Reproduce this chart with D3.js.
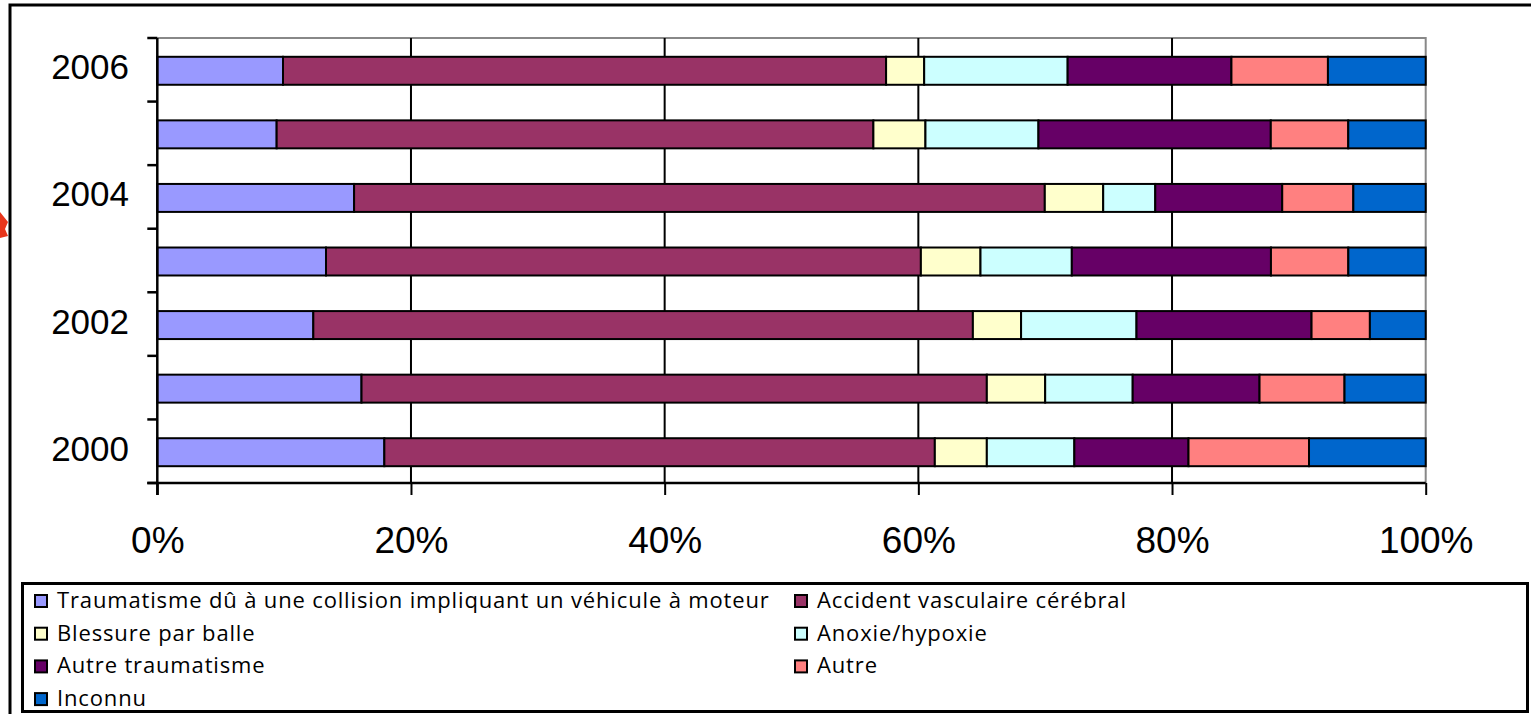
<!DOCTYPE html>
<html lang="fr">
<head>
<meta charset="utf-8">
<script src="https://cdn.jsdelivr.net/npm/d3@7"></script>
<style>
  html, body { margin: 0; padding: 0; background: #fff; }
  svg { display: block; }
</style>
</head>
<body>
<svg id="chart" width="1531" height="714"></svg>
<script>
// Years (bottom to top) and the share of each cause of death, in percent
const years = ["2000", "2001", "2002", "2003", "2004", "2005", "2006"];
const yearLabels = ["2000", "2002", "2004", "2006"];
const causes = [
  "Traumatisme dû à une collision impliquant un véhicule à moteur",
  "Accident vasculaire cérébral",
  "Blessure par balle",
  "Anoxie/hypoxie",
  "Autre traumatisme",
  "Autre",
  "Inconnu"
];
const collision   = [17.9, 16.1, 12.3, 13.3, 15.5,  9.4,  9.9];
const avc         = [43.4, 49.3, 52.0, 46.9, 54.4, 47.0, 47.5];
const balle       = [ 4.1,  4.6,  3.8,  4.7,  4.6,  4.1,  3.0];
const anoxie      = [ 6.9,  6.9,  9.1,  7.2,  4.1,  8.9, 11.3];
const autreTrauma = [ 9.0, 10.0, 13.8, 15.7, 10.0, 18.3, 12.9];
const autre       = [ 9.5,  6.7,  4.6,  6.1,  5.6,  6.1,  7.6];
const inconnu     = [ 9.2,  6.4,  4.4,  6.1,  5.7,  6.1,  7.7];
const percentTicks = [0, 0.2, 0.4, 0.6, 0.8, 1];

const palette = ["#9999FF", "#993366", "#FFFFCC", "#CCFFFF", "#660066", "#FF8080", "#0066CC"];
const seriesValues = [collision, avc, balle, anoxie, autreTrauma, autre, inconnu];

// rows for d3.stack
const rows = years.map((y, i) => {
  const r = { year: y };
  causes.forEach((c, k) => { r[c] = seriesValues[k][i]; });
  return r;
});
const stacked = d3.stack().keys(causes).offset(d3.stackOffsetExpand)(rows);

const svg = d3.select("#chart");
const plot = { left: 157.3, right: 1425.7, top: 38, bottom: 483 };

// outer frame of the slide object
svg.append("rect")
  .attr("x", 10).attr("y", 5).attr("width", 1540).attr("height", 720)
  .attr("fill", "#fff").attr("stroke", "#000").attr("stroke-width", 3);

// small red decoration peeking at the left edge
svg.append("path")
  .attr("d", "M0,212 L8,222 L5,229 L8,236 L0,238 Z")
  .attr("fill", "#e8361c");

const x = d3.scaleLinear().domain([0, 1]).range([plot.left, plot.right]);
const yBand = d3.scaleBand().domain(years.slice().reverse())
  .range([plot.top, plot.bottom]).paddingInner(0).paddingOuter(0);
const yBar = d3.scaleBand().domain(years.slice().reverse())
  .range([plot.top, plot.bottom]).paddingInner(0.56).paddingOuter(0.28);

// plot area border (grey top/right)
svg.append("path")
  .attr("d", `M${plot.left},${plot.top} H${plot.right} V${plot.bottom}`)
  .attr("fill", "none").attr("stroke", "#888").attr("stroke-width", 2);

// vertical gridlines
svg.append("g")
  .selectAll("line")
  .data(percentTicks.slice(1, -1))
  .join("line")
  .attr("x1", d => x(d)).attr("x2", d => x(d))
  .attr("y1", plot.top).attr("y2", plot.bottom)
  .attr("stroke", "#000").attr("stroke-width", 2);

// stacked bars
svg.append("g")
  .selectAll("g")
  .data(stacked)
  .join("g")
  .attr("fill", (d, i) => palette[i])
  .selectAll("rect")
  .data(d => d)
  .join("rect")
  .attr("x", d => x(d[0]))
  .attr("width", d => x(d[1]) - x(d[0]))
  .attr("y", d => yBar(d.data.year) + 1)
  .attr("height", yBar.bandwidth())
  .attr("stroke", "#000").attr("stroke-width", 2);

// x axis
const xAxis = d3.axisBottom(x)
  .tickValues(percentTicks)
  .tickFormat(d3.format(".0%"))
  .tickSize(12)
  .tickSizeOuter(0);
const gx = svg.append("g").attr("transform", `translate(0,${plot.bottom})`).call(xAxis);
gx.select(".domain").remove();
gx.selectAll(".tick line").attr("stroke", "#000").attr("stroke-width", 2);
gx.selectAll(".tick text")
  .attr("y", 70).attr("dy", 0)
  .attr("font-family", "'Liberation Sans', Arial, sans-serif")
  .attr("font-size", 37).attr("fill", "#000");
svg.append("line")
  .attr("x1", plot.left - 10).attr("x2", plot.right)
  .attr("y1", plot.bottom).attr("y2", plot.bottom)
  .attr("stroke", "#000").attr("stroke-width", 2.5);

// y axis: line, ticks at category boundaries, labels every other year
const yEdges = years.map(y => yBand(y)).concat([plot.bottom]);
svg.append("line")
  .attr("x1", plot.left).attr("x2", plot.left)
  .attr("y1", plot.top).attr("y2", plot.bottom + 12)
  .attr("stroke", "#000").attr("stroke-width", 2.5);
svg.append("g")
  .selectAll("line")
  .data(yEdges)
  .join("line")
  .attr("x1", plot.left - 10).attr("x2", plot.left)
  .attr("y1", d => d).attr("y2", d => d)
  .attr("stroke", "#000").attr("stroke-width", 2.5);
svg.append("g")
  .selectAll("text")
  .data(yearLabels)
  .join("text")
  .attr("x", 129)
  .attr("y", d => yBand(d) + yBand.bandwidth() / 2 + 9.5)
  .attr("text-anchor", "end")
  .attr("font-family", "'Liberation Sans', Arial, sans-serif")
  .attr("font-size", 35).attr("fill", "#000")
  .text(d => d);

// legend
const legend = svg.append("g");
legend.append("rect")
  .attr("x", 22.5).attr("y", 583.5).attr("width", 1505).attr("height", 128)
  .attr("fill", "#fff").attr("stroke", "#000").attr("stroke-width", 3);
const colX = [35, 795];
const items = legend.selectAll("g.item")
  .data(causes)
  .join("g")
  .attr("class", "item")
  .attr("transform", (d, i) => `translate(${colX[i % 2]},${595 + Math.floor(i / 2) * 32.7})`);
items.append("rect")
  .attr("width", 12).attr("height", 12)
  .attr("fill", (d, i) => palette[i])
  .attr("stroke", "#000").attr("stroke-width", 2);
items.append("text")
  .attr("x", 22).attr("y", 13)
  .attr("font-family", "'Open Sans', sans-serif")
  .attr("font-size", 22)
  .attr("letter-spacing", 0.85)
  .attr("fill", "#000")
  .text(d => d);
</script>
</body>
</html>
